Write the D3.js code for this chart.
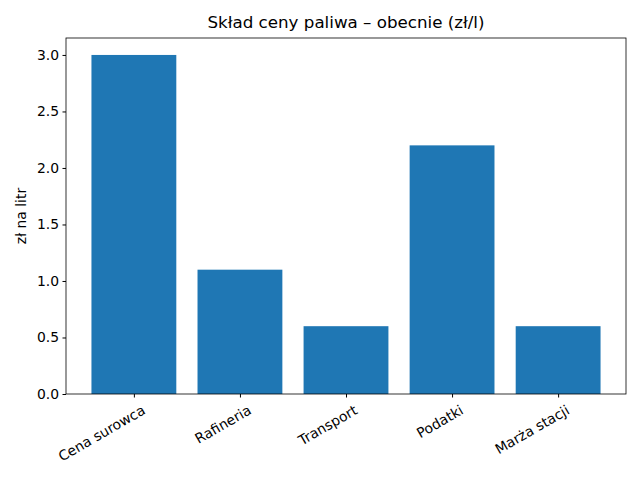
<!DOCTYPE html><html><head><meta charset="utf-8"><script src="https://cdn.jsdelivr.net/npm/d3@7"></script>
<style>body{margin:0}text{font-family:"DejaVu Sans",sans-serif}</style></head><body><svg width="640" height="480"></svg><script>
const categories=["Cena surowca","Rafineria","Transport","Podatki","Marża stacji"];
const values=[3.0,1.1,0.6,2.2,0.6];
const yTicks=[0,0.5,1.0,1.5,2.0,2.5,3.0];
const svg=d3.select("svg");
const L=66,R=626,T=38,B=394;
const x=d3.scaleLinear().domain([-0.64,4.64]).range([L,R]);
const y=d3.scaleLinear().domain([0,3.15]).range([B,T]);
svg.append("rect").attr("width",640).attr("height",480).attr("fill","#fff");
svg.selectAll(".b").data(values).enter().append("rect").attr("fill","#1f77b4")
 .attr("x",(d,i)=>x(i-0.4)).attr("width",(d,i)=>x(i+0.4)-x(i-0.4))
 .attr("y",d=>y(d)).attr("height",d=>B-y(d));
const ya=svg.append("g").attr("transform",`translate(${L},0)`).call(d3.axisLeft(y).tickValues(yTicks).tickFormat(d3.format(".1f")).tickSizeOuter(0).tickSize(3.5).tickPadding(3.5));
const xa=svg.append("g").attr("transform",`translate(0,${B})`).call(d3.axisBottom(x).tickValues(d3.range(5)).tickFormat(i=>categories[i]).tickSizeOuter(0).tickSize(3.5));
[ya,xa].forEach(a=>{a.selectAll("text").attr("font-size",13.9).attr("fill","#000").attr("font-family","DejaVu Sans");a.select(".domain").remove();});
xa.selectAll("text").attr("text-anchor","end").attr("transform","translate(0,4) rotate(-30)").attr("dy","0.9em").attr("dx","0.2em");
svg.append("rect").attr("x",L).attr("y",T).attr("width",R-L).attr("height",B-T).attr("fill","none").attr("stroke","#000").attr("stroke-width",0.8);
svg.append("text").attr("x",(L+R)/2).attr("y",T-10).attr("text-anchor","middle").attr("font-size",16.7).text("Skład ceny paliwa – obecnie (zł/l)");
svg.append("text").attr("transform",`translate(26,${(T+B)/2}) rotate(-90)`).attr("text-anchor","middle").attr("font-size",13.9).text("zł na litr");
</script></body></html>
